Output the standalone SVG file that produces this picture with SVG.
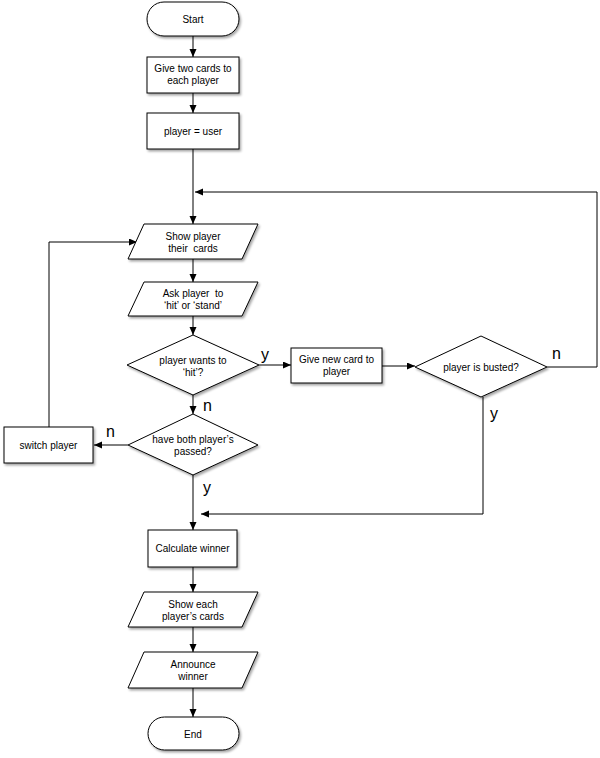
<svg xmlns="http://www.w3.org/2000/svg" width="600" height="758" viewBox="0 0 600 758">
<defs>
<style>
.s{fill:#fff;stroke:#000;stroke-width:1;filter:url(#sh)}
.t{font-family:"Liberation Sans",Arial,sans-serif;font-size:10px;fill:#000;text-anchor:middle;white-space:pre}
.l{font-family:"Liberation Sans",Arial,sans-serif;font-size:16px;fill:#000}
.c{fill:none;stroke:#000;stroke-width:1;marker-end:url(#ah)}
</style>
<filter id="sh" x="-10%" y="-10%" width="130%" height="140%">
<feDropShadow dx="1.5" dy="2" stdDeviation="1" flood-color="#000" flood-opacity="0.35"/>
</filter>
<marker id="ah" markerUnits="userSpaceOnUse" markerWidth="9" markerHeight="8" refX="8" refY="3.5" orient="auto">
<path d="M0,0 L8,3.5 L0,7 z" fill="#000"/>
</marker>
</defs>
<rect width="600" height="758" fill="#fff"/>
<g id="connectors">
<path class="c" d="M193,36 V57"/>
<path class="c" d="M193,93 V113"/>
<path class="c" d="M193,149 V224"/>
<path class="c" d="M193,259 V282"/>
<path class="c" d="M193,316 V335"/>
<path class="c" d="M259,365 H291"/>
<path class="c" d="M382,366 H415"/>
<path class="c" d="M547,367 H597 V192 H195"/>
<path class="c" d="M483,397 V514 H201"/>
<path class="c" d="M193,395 V414"/>
<path class="c" d="M128,445 H94"/>
<path class="c" d="M49,427 V242 H137"/>
<path class="c" d="M193,475 V530"/>
<path class="c" d="M193,567 V592"/>
<path class="c" d="M193,627 V652"/>
<path class="c" d="M193,688 V717"/>
<text class="l" x="261" y="360">y</text>
<text class="l" x="552" y="359">n</text>
<text class="l" x="490" y="419">y</text>
<text class="l" x="203" y="411">n</text>
<text class="l" x="106" y="437">n</text>
<text class="l" x="203" y="493">y</text>
</g>
<g id="start"><rect class="s" x="147" y="2" width="92" height="34" rx="17"/><text class="t" x="193" y="23">Start</text></g>
<g id="give-two"><rect class="s" x="147" y="57" width="92" height="36"/><text class="t" x="193" y="72">Give two cards to</text><text class="t" x="193" y="84">each player</text></g>
<g id="player-user"><rect class="s" x="147" y="113" width="92" height="36"/><text class="t" x="193" y="135">player = user</text></g>
<g id="show-player"><polygon class="s" points="144,224 258,224 242,259 128,259"/><text class="t" x="193" y="240" xml:space="preserve">Show player</text><text class="t" x="193" y="252" xml:space="preserve">their  cards</text></g>
<g id="ask-player"><polygon class="s" points="144,282 258,282 242,316 128,316"/><text class="t" x="193" y="297" xml:space="preserve">Ask player  to</text><text class="t" x="193" y="309">‘hit’ or ‘stand’</text></g>
<g id="wants-hit"><polygon class="s" points="193,335 259,365 193,395 127,365"/><text class="t" x="193" y="364">player wants to</text><text class="t" x="193" y="376">‘hit’?</text></g>
<g id="give-new"><rect class="s" x="291" y="348" width="91" height="35"/><text class="t" x="336.5" y="363">Give new card to</text><text class="t" x="336.5" y="375">player</text></g>
<g id="busted"><polygon class="s" points="481,336 547,367 481,397 415,367"/><text class="t" x="481" y="371">player is busted?</text></g>
<g id="both-passed"><polygon class="s" points="193,414 258,445 193,475 128,445"/><text class="t" x="193" y="443">have both player’s</text><text class="t" x="193" y="455">passed?</text></g>
<g id="switch-player"><rect class="s" x="4" y="427" width="89" height="36"/><text class="t" x="48.5" y="449">switch player</text></g>
<g id="calc-winner"><rect class="s" x="148" y="530" width="89" height="37"/><text class="t" x="192.5" y="552">Calculate winner</text></g>
<g id="show-each"><polygon class="s" points="144,592 258,592 242,627 128,627"/><text class="t" x="193" y="608">Show each</text><text class="t" x="193" y="620">player’s cards</text></g>
<g id="announce"><polygon class="s" points="144,652 258,652 242,688 128,688"/><text class="t" x="193" y="668">Announce</text><text class="t" x="193" y="680">winner</text></g>
<g id="end"><rect class="s" x="148" y="717" width="91" height="33" rx="16.5"/><text class="t" x="193" y="738">End</text></g>
</svg>
